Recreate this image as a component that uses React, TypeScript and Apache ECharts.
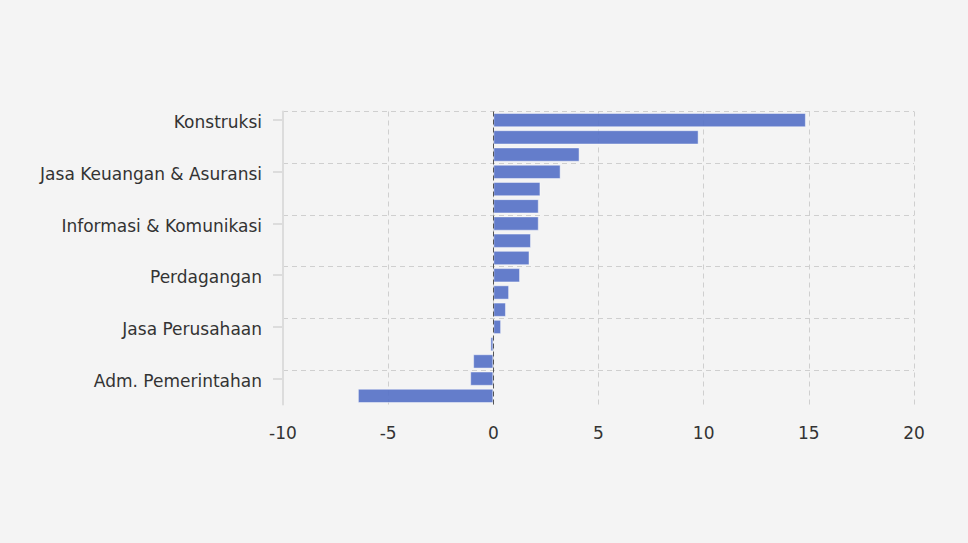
import React, { useEffect, useRef } from "react";
import * as echarts from "echarts";

const categories: string[] = [
  "Konstruksi",
  "Pengadaan Listrik & Gas",
  "Real Estat",
  "Jasa Keuangan & Asuransi",
  "Industri Pengolahan",
  "Pertanian",
  "Informasi & Komunikasi",
  "Jasa Kesehatan",
  "Pengadaan Air",
  "Perdagangan",
  "Transportasi & Pergudangan",
  "Akomodasi & Makan Minum",
  "Jasa Perusahaan",
  "Jasa Lainnya",
  "Pertambangan",
  "Adm. Pemerintahan",
  "Jasa Pendidikan",
];

const values: number[] = [
  14.86, 9.76, 4.1, 3.2, 2.24, 2.16, 2.16, 1.79, 1.72, 1.27, 0.75, 0.6, 0.37,
  -0.14, -0.96, -1.1, -6.44,
];

const xTicks = { min: -10, max: 20, interval: 5 };

export default function App() {
  const ref = useRef<HTMLDivElement>(null);
  useEffect(() => {
    if (!ref.current) return;
    const chart = echarts.init(ref.current, undefined, { renderer: "svg" });
    const font = "DejaVu Sans, Verdana, sans-serif";
    const grid = "#cfcfcf";
    chart.setOption({
      animation: false,
      backgroundColor: "#f4f4f4",
      grid: { left: 283, right: 54, top: 111.5, bottom: 138.5, containLabel: false },
      xAxis: {
        type: "value",
        min: xTicks.min,
        max: xTicks.max,
        interval: xTicks.interval,
        axisLine: { show: false },
        axisTick: { show: false },
        axisLabel: { color: "#333", fontSize: 17, fontFamily: font, margin: 20 },
        splitLine: { show: true, lineStyle: { type: [5, 4], color: grid } },
      },
      yAxis: {
        type: "category",
        inverse: true,
        data: categories,
        axisLine: { show: true, onZero: false, lineStyle: { color: "#dcdcdc", width: 2 } },
        axisTick: { show: true, alignWithLabel: true, interval: 2, length: 10, lineStyle: { color: "#dcdcdc", width: 2 } },
        axisLabel: {
          color: "#333",
          fontSize: 17,
          fontFamily: font,
          interval: 2,
          margin: 21,
          verticalAlign: "top",
          lineHeight: 4,
        },
        splitLine: {
          show: true,
          interval: 2,
          lineStyle: {
            type: [5, 4],
            color: [grid, grid, grid, grid, grid, grid, "rgba(0,0,0,0)"],
          },
        },
      },
      series: [
        {
          type: "bar",
          data: values,
          barCategoryGap: "17%",
          itemStyle: {
            color: "#5470c6",
            opacity: 0.9,
            borderColor: "rgba(255,255,255,0.5)",
            borderWidth: 1,
          },
          markLine: {
            silent: true,
            symbol: "none",
            label: { show: false },
            lineStyle: { type: [5, 3], color: "#555", width: 1 },
            data: [{ xAxis: 0 }],
          },
        },
      ],
    });
    return () => chart.dispose();
  }, []);
  return (
    <div
      ref={ref}
      style={{ position: "fixed", left: 0, top: 0, width: 968, height: 543 }}
    />
  );
}
